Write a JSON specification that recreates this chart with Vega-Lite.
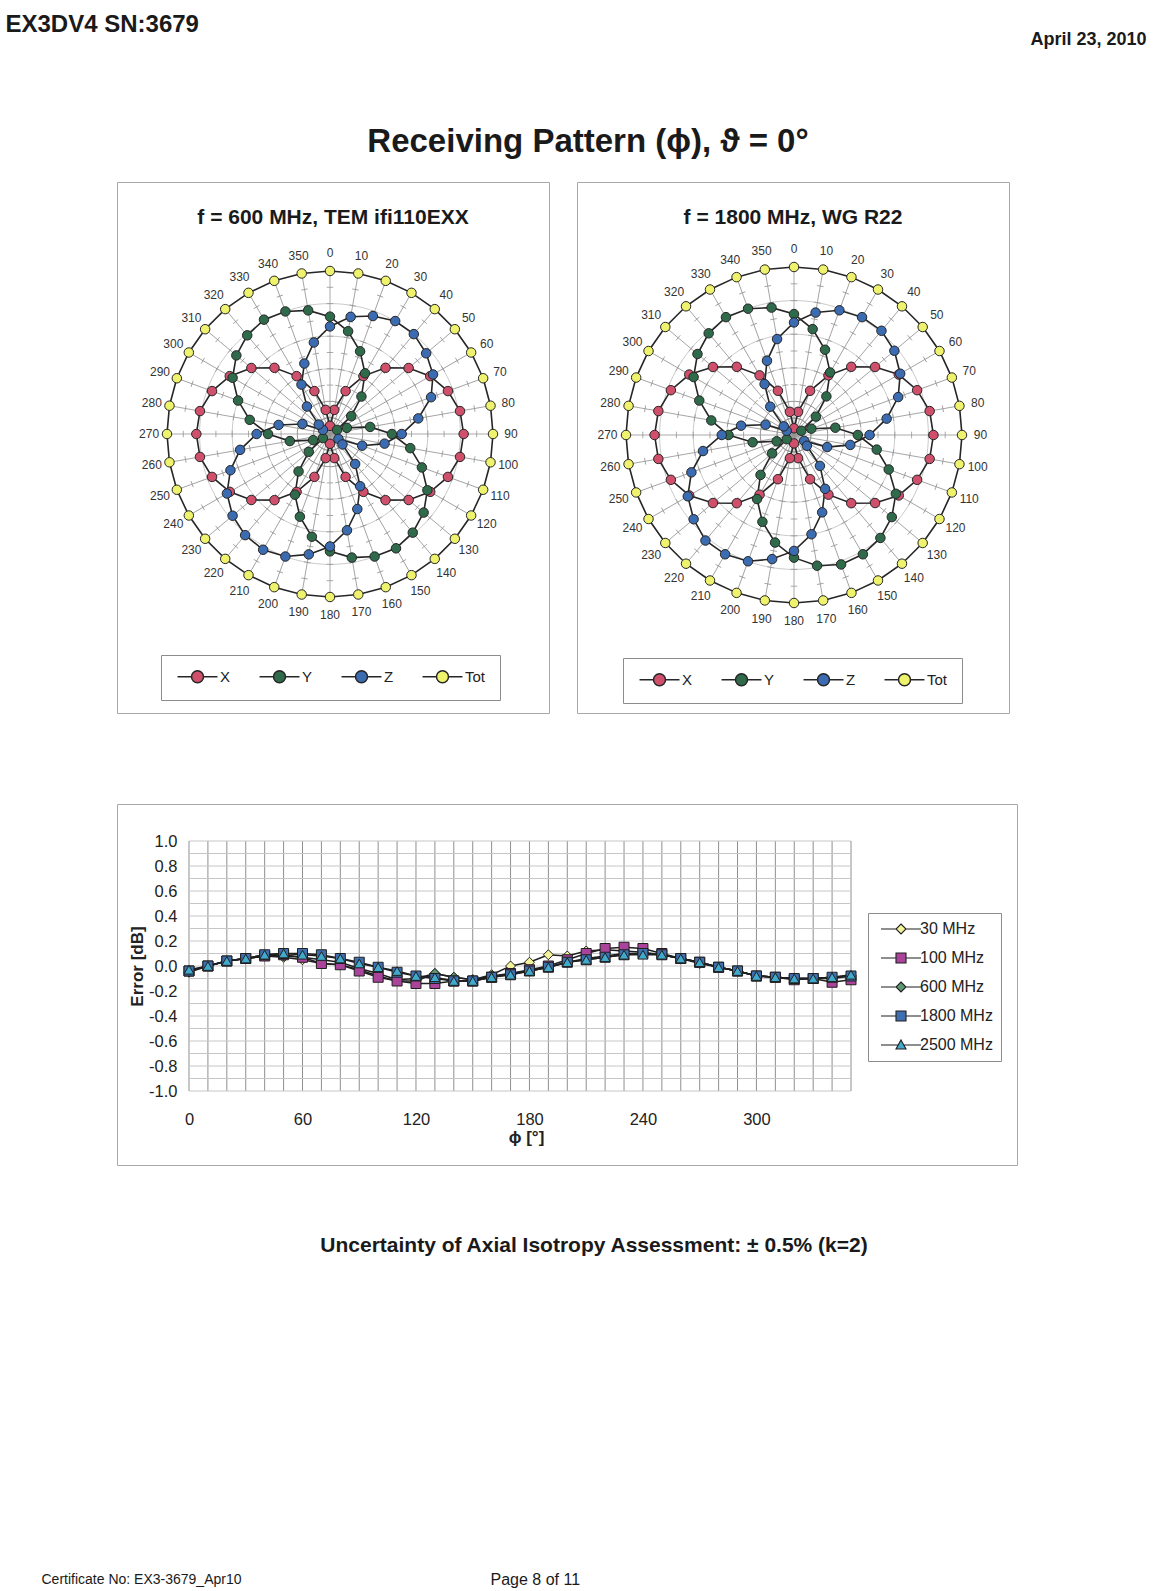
{
  "$schema": "https://vega.github.io/schema/vega-lite/v6.json",
  "background": "white",
  "padding": {"left": 5, "top": 12, "right": 10, "bottom": 5},
  "config": {
    "font": "Liberation Sans",
    "locale": {"number": {"decimal": ".", "thousands": ",", "grouping": [3], "currency": ["$", ""], "minus": "-"}},
    "view": {"stroke": "#a8a8a8", "strokeWidth": 1},
    "title": {"font": "Liberation Sans", "color": "#1a1a1a", "fontWeight": "bold"},
    "axis": {"labelFont": "Liberation Sans", "titleFont": "Liberation Sans", "labelColor": "#222222", "titleColor": "#222222", "labelOverlap": false},
    "legend": {"labelFont": "Liberation Sans", "labelColor": "#222222"}
  },
  "datasets": {
    "pattern600": [
      {"phi":0,"comp":"X","r":0.05},{"phi":10,"comp":"X","r":0.15},{"phi":20,"comp":"X","r":0.28},{"phi":30,"comp":"X","r":0.41},{"phi":40,"comp":"X","r":0.53},{"phi":50,"comp":"X","r":0.63},{"phi":60,"comp":"X","r":0.71},{"phi":70,"comp":"X","r":0.77},{"phi":80,"comp":"X","r":0.81},{"phi":90,"comp":"X","r":0.82},{"phi":100,"comp":"X","r":0.81},{"phi":110,"comp":"X","r":0.77},{"phi":120,"comp":"X","r":0.71},{"phi":130,"comp":"X","r":0.63},{"phi":140,"comp":"X","r":0.53},{"phi":150,"comp":"X","r":0.41},{"phi":160,"comp":"X","r":0.28},{"phi":170,"comp":"X","r":0.15},{"phi":180,"comp":"X","r":0.06},{"phi":190,"comp":"X","r":0.15},{"phi":200,"comp":"X","r":0.28},{"phi":210,"comp":"X","r":0.41},{"phi":220,"comp":"X","r":0.53},{"phi":230,"comp":"X","r":0.63},{"phi":240,"comp":"X","r":0.71},{"phi":250,"comp":"X","r":0.77},{"phi":260,"comp":"X","r":0.81},{"phi":270,"comp":"X","r":0.82},{"phi":280,"comp":"X","r":0.81},{"phi":290,"comp":"X","r":0.77},{"phi":300,"comp":"X","r":0.71},{"phi":310,"comp":"X","r":0.63},{"phi":320,"comp":"X","r":0.53},{"phi":330,"comp":"X","r":0.41},{"phi":340,"comp":"X","r":0.28},{"phi":350,"comp":"X","r":0.15},
      {"phi":0,"comp":"Y","r":0.72},{"phi":10,"comp":"Y","r":0.64},{"phi":20,"comp":"Y","r":0.54},{"phi":30,"comp":"Y","r":0.43},{"phi":40,"comp":"Y","r":0.30},{"phi":50,"comp":"Y","r":0.17},{"phi":60,"comp":"Y","r":0.05},{"phi":70,"comp":"Y","r":0.11},{"phi":80,"comp":"Y","r":0.25},{"phi":90,"comp":"Y","r":0.38},{"phi":100,"comp":"Y","r":0.50},{"phi":110,"comp":"Y","r":0.60},{"phi":120,"comp":"Y","r":0.69},{"phi":130,"comp":"Y","r":0.75},{"phi":140,"comp":"Y","r":0.79},{"phi":150,"comp":"Y","r":0.81},{"phi":160,"comp":"Y","r":0.80},{"phi":170,"comp":"Y","r":0.77},{"phi":180,"comp":"Y","r":0.72},{"phi":190,"comp":"Y","r":0.64},{"phi":200,"comp":"Y","r":0.54},{"phi":210,"comp":"Y","r":0.43},{"phi":220,"comp":"Y","r":0.30},{"phi":230,"comp":"Y","r":0.17},{"phi":240,"comp":"Y","r":0.05},{"phi":250,"comp":"Y","r":0.11},{"phi":260,"comp":"Y","r":0.25},{"phi":270,"comp":"Y","r":0.38},{"phi":280,"comp":"Y","r":0.50},{"phi":290,"comp":"Y","r":0.60},{"phi":300,"comp":"Y","r":0.69},{"phi":310,"comp":"Y","r":0.75},{"phi":320,"comp":"Y","r":0.79},{"phi":330,"comp":"Y","r":0.81},{"phi":340,"comp":"Y","r":0.80},{"phi":350,"comp":"Y","r":0.77},
      {"phi":0,"comp":"Z","r":0.66},{"phi":10,"comp":"Z","r":0.73},{"phi":20,"comp":"Z","r":0.77},{"phi":30,"comp":"Z","r":0.80},{"phi":40,"comp":"Z","r":0.80},{"phi":50,"comp":"Z","r":0.77},{"phi":60,"comp":"Z","r":0.73},{"phi":70,"comp":"Z","r":0.66},{"phi":80,"comp":"Z","r":0.55},{"phi":90,"comp":"Z","r":0.44},{"phi":100,"comp":"Z","r":0.34},{"phi":110,"comp":"Z","r":0.21},{"phi":120,"comp":"Z","r":0.06},{"phi":130,"comp":"Z","r":0.10},{"phi":140,"comp":"Z","r":0.24},{"phi":150,"comp":"Z","r":0.37},{"phi":160,"comp":"Z","r":0.49},{"phi":170,"comp":"Z","r":0.60},{"phi":180,"comp":"Z","r":0.69},{"phi":190,"comp":"Z","r":0.75},{"phi":200,"comp":"Z","r":0.80},{"phi":210,"comp":"Z","r":0.82},{"phi":220,"comp":"Z","r":0.81},{"phi":230,"comp":"Z","r":0.78},{"phi":240,"comp":"Z","r":0.73},{"phi":250,"comp":"Z","r":0.65},{"phi":260,"comp":"Z","r":0.56},{"phi":270,"comp":"Z","r":0.45},{"phi":280,"comp":"Z","r":0.32},{"phi":290,"comp":"Z","r":0.18},{"phi":300,"comp":"Z","r":0.05},{"phi":310,"comp":"Z","r":0.09},{"phi":320,"comp":"Z","r":0.22},{"phi":330,"comp":"Z","r":0.35},{"phi":340,"comp":"Z","r":0.46},{"phi":350,"comp":"Z","r":0.57},
      {"phi":0,"comp":"Tot","r":1.0},{"phi":10,"comp":"Tot","r":1.0},{"phi":20,"comp":"Tot","r":1.0},{"phi":30,"comp":"Tot","r":1.0},{"phi":40,"comp":"Tot","r":1.0},{"phi":50,"comp":"Tot","r":1.0},{"phi":60,"comp":"Tot","r":1.0},{"phi":70,"comp":"Tot","r":1.0},{"phi":80,"comp":"Tot","r":1.0},{"phi":90,"comp":"Tot","r":1.0},{"phi":100,"comp":"Tot","r":1.0},{"phi":110,"comp":"Tot","r":1.0},{"phi":120,"comp":"Tot","r":1.0},{"phi":130,"comp":"Tot","r":1.0},{"phi":140,"comp":"Tot","r":1.0},{"phi":150,"comp":"Tot","r":1.0},{"phi":160,"comp":"Tot","r":1.0},{"phi":170,"comp":"Tot","r":1.0},{"phi":180,"comp":"Tot","r":1.0},{"phi":190,"comp":"Tot","r":1.0},{"phi":200,"comp":"Tot","r":1.0},{"phi":210,"comp":"Tot","r":1.0},{"phi":220,"comp":"Tot","r":1.0},{"phi":230,"comp":"Tot","r":1.0},{"phi":240,"comp":"Tot","r":1.0},{"phi":250,"comp":"Tot","r":1.0},{"phi":260,"comp":"Tot","r":1.0},{"phi":270,"comp":"Tot","r":1.0},{"phi":280,"comp":"Tot","r":1.0},{"phi":290,"comp":"Tot","r":1.0},{"phi":300,"comp":"Tot","r":1.0},{"phi":310,"comp":"Tot","r":1.0},{"phi":320,"comp":"Tot","r":1.0},{"phi":330,"comp":"Tot","r":1.0},{"phi":340,"comp":"Tot","r":1.0},{"phi":350,"comp":"Tot","r":1.0}
    ],
    "pattern1800": [
      {"phi":0,"comp":"X","r":0.04},{"phi":10,"comp":"X","r":0.14},{"phi":20,"comp":"X","r":0.28},{"phi":30,"comp":"X","r":0.41},{"phi":40,"comp":"X","r":0.53},{"phi":50,"comp":"X","r":0.63},{"phi":60,"comp":"X","r":0.72},{"phi":70,"comp":"X","r":0.78},{"phi":80,"comp":"X","r":0.82},{"phi":90,"comp":"X","r":0.83},{"phi":100,"comp":"X","r":0.82},{"phi":110,"comp":"X","r":0.78},{"phi":120,"comp":"X","r":0.72},{"phi":130,"comp":"X","r":0.63},{"phi":140,"comp":"X","r":0.53},{"phi":150,"comp":"X","r":0.41},{"phi":160,"comp":"X","r":0.28},{"phi":170,"comp":"X","r":0.14},{"phi":180,"comp":"X","r":0.05},{"phi":190,"comp":"X","r":0.14},{"phi":200,"comp":"X","r":0.28},{"phi":210,"comp":"X","r":0.41},{"phi":220,"comp":"X","r":0.53},{"phi":230,"comp":"X","r":0.63},{"phi":240,"comp":"X","r":0.72},{"phi":250,"comp":"X","r":0.78},{"phi":260,"comp":"X","r":0.82},{"phi":270,"comp":"X","r":0.83},{"phi":280,"comp":"X","r":0.82},{"phi":290,"comp":"X","r":0.78},{"phi":300,"comp":"X","r":0.72},{"phi":310,"comp":"X","r":0.63},{"phi":320,"comp":"X","r":0.53},{"phi":330,"comp":"X","r":0.41},{"phi":340,"comp":"X","r":0.28},{"phi":350,"comp":"X","r":0.14},
      {"phi":0,"comp":"Y","r":0.72},{"phi":10,"comp":"Y","r":0.64},{"phi":20,"comp":"Y","r":0.54},{"phi":30,"comp":"Y","r":0.43},{"phi":40,"comp":"Y","r":0.30},{"phi":50,"comp":"Y","r":0.17},{"phi":60,"comp":"Y","r":0.05},{"phi":70,"comp":"Y","r":0.11},{"phi":80,"comp":"Y","r":0.25},{"phi":90,"comp":"Y","r":0.38},{"phi":100,"comp":"Y","r":0.50},{"phi":110,"comp":"Y","r":0.60},{"phi":120,"comp":"Y","r":0.70},{"phi":130,"comp":"Y","r":0.76},{"phi":140,"comp":"Y","r":0.80},{"phi":150,"comp":"Y","r":0.82},{"phi":160,"comp":"Y","r":0.82},{"phi":170,"comp":"Y","r":0.79},{"phi":180,"comp":"Y","r":0.73},{"phi":190,"comp":"Y","r":0.65},{"phi":200,"comp":"Y","r":0.55},{"phi":210,"comp":"Y","r":0.44},{"phi":220,"comp":"Y","r":0.31},{"phi":230,"comp":"Y","r":0.17},{"phi":240,"comp":"Y","r":0.05},{"phi":250,"comp":"Y","r":0.11},{"phi":260,"comp":"Y","r":0.25},{"phi":270,"comp":"Y","r":0.39},{"phi":280,"comp":"Y","r":0.50},{"phi":290,"comp":"Y","r":0.60},{"phi":300,"comp":"Y","r":0.69},{"phi":310,"comp":"Y","r":0.75},{"phi":320,"comp":"Y","r":0.79},{"phi":330,"comp":"Y","r":0.81},{"phi":340,"comp":"Y","r":0.80},{"phi":350,"comp":"Y","r":0.77},
      {"phi":0,"comp":"Z","r":0.67},{"phi":10,"comp":"Z","r":0.74},{"phi":20,"comp":"Z","r":0.79},{"phi":30,"comp":"Z","r":0.81},{"phi":40,"comp":"Z","r":0.81},{"phi":50,"comp":"Z","r":0.78},{"phi":60,"comp":"Z","r":0.73},{"phi":70,"comp":"Z","r":0.66},{"phi":80,"comp":"Z","r":0.56},{"phi":90,"comp":"Z","r":0.45},{"phi":100,"comp":"Z","r":0.34},{"phi":110,"comp":"Z","r":0.21},{"phi":120,"comp":"Z","r":0.07},{"phi":130,"comp":"Z","r":0.10},{"phi":140,"comp":"Z","r":0.24},{"phi":150,"comp":"Z","r":0.37},{"phi":160,"comp":"Z","r":0.49},{"phi":170,"comp":"Z","r":0.60},{"phi":180,"comp":"Z","r":0.69},{"phi":190,"comp":"Z","r":0.75},{"phi":200,"comp":"Z","r":0.80},{"phi":210,"comp":"Z","r":0.82},{"phi":220,"comp":"Z","r":0.82},{"phi":230,"comp":"Z","r":0.78},{"phi":240,"comp":"Z","r":0.73},{"phi":250,"comp":"Z","r":0.65},{"phi":260,"comp":"Z","r":0.55},{"phi":270,"comp":"Z","r":0.43},{"phi":280,"comp":"Z","r":0.32},{"phi":290,"comp":"Z","r":0.18},{"phi":300,"comp":"Z","r":0.05},{"phi":310,"comp":"Z","r":0.08},{"phi":320,"comp":"Z","r":0.22},{"phi":330,"comp":"Z","r":0.35},{"phi":340,"comp":"Z","r":0.47},{"phi":350,"comp":"Z","r":0.58},
      {"phi":0,"comp":"Tot","r":1.0},{"phi":10,"comp":"Tot","r":1.0},{"phi":20,"comp":"Tot","r":1.0},{"phi":30,"comp":"Tot","r":1.0},{"phi":40,"comp":"Tot","r":1.0},{"phi":50,"comp":"Tot","r":1.0},{"phi":60,"comp":"Tot","r":1.0},{"phi":70,"comp":"Tot","r":1.0},{"phi":80,"comp":"Tot","r":1.0},{"phi":90,"comp":"Tot","r":1.0},{"phi":100,"comp":"Tot","r":1.0},{"phi":110,"comp":"Tot","r":1.0},{"phi":120,"comp":"Tot","r":1.0},{"phi":130,"comp":"Tot","r":1.0},{"phi":140,"comp":"Tot","r":1.0},{"phi":150,"comp":"Tot","r":1.0},{"phi":160,"comp":"Tot","r":1.0},{"phi":170,"comp":"Tot","r":1.0},{"phi":180,"comp":"Tot","r":1.0},{"phi":190,"comp":"Tot","r":1.0},{"phi":200,"comp":"Tot","r":1.0},{"phi":210,"comp":"Tot","r":1.0},{"phi":220,"comp":"Tot","r":1.0},{"phi":230,"comp":"Tot","r":1.0},{"phi":240,"comp":"Tot","r":1.0},{"phi":250,"comp":"Tot","r":1.0},{"phi":260,"comp":"Tot","r":1.0},{"phi":270,"comp":"Tot","r":1.0},{"phi":280,"comp":"Tot","r":1.0},{"phi":290,"comp":"Tot","r":1.0},{"phi":300,"comp":"Tot","r":1.0},{"phi":310,"comp":"Tot","r":1.0},{"phi":320,"comp":"Tot","r":1.0},{"phi":330,"comp":"Tot","r":1.0},{"phi":340,"comp":"Tot","r":1.0},{"phi":350,"comp":"Tot","r":1.0}
    ],
    "isotropy": [
      {"phi":0,"series":"30 MHz","error":-0.04},{"phi":10,"series":"30 MHz","error":0.00},{"phi":20,"series":"30 MHz","error":0.04},{"phi":30,"series":"30 MHz","error":0.06},{"phi":40,"series":"30 MHz","error":0.08},{"phi":50,"series":"30 MHz","error":0.07},{"phi":60,"series":"30 MHz","error":0.05},{"phi":70,"series":"30 MHz","error":0.02},{"phi":80,"series":"30 MHz","error":0.01},{"phi":90,"series":"30 MHz","error":-0.03},{"phi":100,"series":"30 MHz","error":-0.08},{"phi":110,"series":"30 MHz","error":-0.12},{"phi":120,"series":"30 MHz","error":-0.12},{"phi":130,"series":"30 MHz","error":-0.06},{"phi":140,"series":"30 MHz","error":-0.09},{"phi":150,"series":"30 MHz","error":-0.11},{"phi":160,"series":"30 MHz","error":-0.07},{"phi":170,"series":"30 MHz","error":0.00},{"phi":180,"series":"30 MHz","error":0.03},{"phi":190,"series":"30 MHz","error":0.09},{"phi":200,"series":"30 MHz","error":0.08},{"phi":210,"series":"30 MHz","error":0.12},{"phi":220,"series":"30 MHz","error":0.13},{"phi":230,"series":"30 MHz","error":0.12},{"phi":240,"series":"30 MHz","error":0.11},{"phi":250,"series":"30 MHz","error":0.09},{"phi":260,"series":"30 MHz","error":0.06},{"phi":270,"series":"30 MHz","error":0.03},{"phi":280,"series":"30 MHz","error":-0.01},{"phi":290,"series":"30 MHz","error":-0.04},{"phi":300,"series":"30 MHz","error":-0.08},{"phi":310,"series":"30 MHz","error":-0.09},{"phi":320,"series":"30 MHz","error":-0.10},{"phi":330,"series":"30 MHz","error":-0.10},{"phi":340,"series":"30 MHz","error":-0.10},{"phi":350,"series":"30 MHz","error":-0.08},
      {"phi":0,"series":"100 MHz","error":-0.04},{"phi":10,"series":"100 MHz","error":0.00},{"phi":20,"series":"100 MHz","error":0.04},{"phi":30,"series":"100 MHz","error":0.06},{"phi":40,"series":"100 MHz","error":0.08},{"phi":50,"series":"100 MHz","error":0.09},{"phi":60,"series":"100 MHz","error":0.07},{"phi":70,"series":"100 MHz","error":0.02},{"phi":80,"series":"100 MHz","error":0.01},{"phi":90,"series":"100 MHz","error":-0.04},{"phi":100,"series":"100 MHz","error":-0.09},{"phi":110,"series":"100 MHz","error":-0.12},{"phi":120,"series":"100 MHz","error":-0.14},{"phi":130,"series":"100 MHz","error":-0.14},{"phi":140,"series":"100 MHz","error":-0.12},{"phi":150,"series":"100 MHz","error":-0.12},{"phi":160,"series":"100 MHz","error":-0.09},{"phi":170,"series":"100 MHz","error":-0.06},{"phi":180,"series":"100 MHz","error":-0.03},{"phi":190,"series":"100 MHz","error":0.00},{"phi":200,"series":"100 MHz","error":0.05},{"phi":210,"series":"100 MHz","error":0.10},{"phi":220,"series":"100 MHz","error":0.14},{"phi":230,"series":"100 MHz","error":0.15},{"phi":240,"series":"100 MHz","error":0.14},{"phi":250,"series":"100 MHz","error":0.10},{"phi":260,"series":"100 MHz","error":0.06},{"phi":270,"series":"100 MHz","error":0.03},{"phi":280,"series":"100 MHz","error":-0.01},{"phi":290,"series":"100 MHz","error":-0.04},{"phi":300,"series":"100 MHz","error":-0.08},{"phi":310,"series":"100 MHz","error":-0.09},{"phi":320,"series":"100 MHz","error":-0.11},{"phi":330,"series":"100 MHz","error":-0.10},{"phi":340,"series":"100 MHz","error":-0.13},{"phi":350,"series":"100 MHz","error":-0.11},
      {"phi":0,"series":"600 MHz","error":-0.05},{"phi":10,"series":"600 MHz","error":0.00},{"phi":20,"series":"600 MHz","error":0.04},{"phi":30,"series":"600 MHz","error":0.06},{"phi":40,"series":"600 MHz","error":0.08},{"phi":50,"series":"600 MHz","error":0.08},{"phi":60,"series":"600 MHz","error":0.07},{"phi":70,"series":"600 MHz","error":0.05},{"phi":80,"series":"600 MHz","error":0.03},{"phi":90,"series":"600 MHz","error":-0.02},{"phi":100,"series":"600 MHz","error":-0.06},{"phi":110,"series":"600 MHz","error":-0.11},{"phi":120,"series":"600 MHz","error":-0.10},{"phi":130,"series":"600 MHz","error":-0.06},{"phi":140,"series":"600 MHz","error":-0.09},{"phi":150,"series":"600 MHz","error":-0.11},{"phi":160,"series":"600 MHz","error":-0.08},{"phi":170,"series":"600 MHz","error":-0.06},{"phi":180,"series":"600 MHz","error":-0.04},{"phi":190,"series":"600 MHz","error":-0.01},{"phi":200,"series":"600 MHz","error":0.03},{"phi":210,"series":"600 MHz","error":0.06},{"phi":220,"series":"600 MHz","error":0.08},{"phi":230,"series":"600 MHz","error":0.10},{"phi":240,"series":"600 MHz","error":0.10},{"phi":250,"series":"600 MHz","error":0.09},{"phi":260,"series":"600 MHz","error":0.06},{"phi":270,"series":"600 MHz","error":0.02},{"phi":280,"series":"600 MHz","error":-0.01},{"phi":290,"series":"600 MHz","error":-0.04},{"phi":300,"series":"600 MHz","error":-0.08},{"phi":310,"series":"600 MHz","error":-0.09},{"phi":320,"series":"600 MHz","error":-0.10},{"phi":330,"series":"600 MHz","error":-0.10},{"phi":340,"series":"600 MHz","error":-0.09},{"phi":350,"series":"600 MHz","error":-0.08},
      {"phi":0,"series":"1800 MHz","error":-0.04},{"phi":10,"series":"1800 MHz","error":0.00},{"phi":20,"series":"1800 MHz","error":0.04},{"phi":30,"series":"1800 MHz","error":0.06},{"phi":40,"series":"1800 MHz","error":0.09},{"phi":50,"series":"1800 MHz","error":0.10},{"phi":60,"series":"1800 MHz","error":0.10},{"phi":70,"series":"1800 MHz","error":0.09},{"phi":80,"series":"1800 MHz","error":0.06},{"phi":90,"series":"1800 MHz","error":0.03},{"phi":100,"series":"1800 MHz","error":-0.01},{"phi":110,"series":"1800 MHz","error":-0.05},{"phi":120,"series":"1800 MHz","error":-0.08},{"phi":130,"series":"1800 MHz","error":-0.10},{"phi":140,"series":"1800 MHz","error":-0.12},{"phi":150,"series":"1800 MHz","error":-0.12},{"phi":160,"series":"1800 MHz","error":-0.09},{"phi":170,"series":"1800 MHz","error":-0.07},{"phi":180,"series":"1800 MHz","error":-0.04},{"phi":190,"series":"1800 MHz","error":-0.01},{"phi":200,"series":"1800 MHz","error":0.03},{"phi":210,"series":"1800 MHz","error":0.05},{"phi":220,"series":"1800 MHz","error":0.07},{"phi":230,"series":"1800 MHz","error":0.09},{"phi":240,"series":"1800 MHz","error":0.10},{"phi":250,"series":"1800 MHz","error":0.09},{"phi":260,"series":"1800 MHz","error":0.06},{"phi":270,"series":"1800 MHz","error":0.03},{"phi":280,"series":"1800 MHz","error":-0.01},{"phi":290,"series":"1800 MHz","error":-0.04},{"phi":300,"series":"1800 MHz","error":-0.08},{"phi":310,"series":"1800 MHz","error":-0.09},{"phi":320,"series":"1800 MHz","error":-0.10},{"phi":330,"series":"1800 MHz","error":-0.10},{"phi":340,"series":"1800 MHz","error":-0.09},{"phi":350,"series":"1800 MHz","error":-0.08},
      {"phi":0,"series":"2500 MHz","error":-0.03},{"phi":10,"series":"2500 MHz","error":0.00},{"phi":20,"series":"2500 MHz","error":0.04},{"phi":30,"series":"2500 MHz","error":0.06},{"phi":40,"series":"2500 MHz","error":0.09},{"phi":50,"series":"2500 MHz","error":0.10},{"phi":60,"series":"2500 MHz","error":0.09},{"phi":70,"series":"2500 MHz","error":0.08},{"phi":80,"series":"2500 MHz","error":0.06},{"phi":90,"series":"2500 MHz","error":0.02},{"phi":100,"series":"2500 MHz","error":-0.01},{"phi":110,"series":"2500 MHz","error":-0.04},{"phi":120,"series":"2500 MHz","error":-0.08},{"phi":130,"series":"2500 MHz","error":-0.09},{"phi":140,"series":"2500 MHz","error":-0.12},{"phi":150,"series":"2500 MHz","error":-0.12},{"phi":160,"series":"2500 MHz","error":-0.09},{"phi":170,"series":"2500 MHz","error":-0.07},{"phi":180,"series":"2500 MHz","error":-0.04},{"phi":190,"series":"2500 MHz","error":-0.01},{"phi":200,"series":"2500 MHz","error":0.03},{"phi":210,"series":"2500 MHz","error":0.05},{"phi":220,"series":"2500 MHz","error":0.07},{"phi":230,"series":"2500 MHz","error":0.09},{"phi":240,"series":"2500 MHz","error":0.09},{"phi":250,"series":"2500 MHz","error":0.09},{"phi":260,"series":"2500 MHz","error":0.06},{"phi":270,"series":"2500 MHz","error":0.03},{"phi":280,"series":"2500 MHz","error":-0.01},{"phi":290,"series":"2500 MHz","error":-0.04},{"phi":300,"series":"2500 MHz","error":-0.08},{"phi":310,"series":"2500 MHz","error":-0.09},{"phi":320,"series":"2500 MHz","error":-0.10},{"phi":330,"series":"2500 MHz","error":-0.10},{"phi":340,"series":"2500 MHz","error":-0.09},{"phi":350,"series":"2500 MHz","error":-0.07}
    ],
    "errorGrid": [
      {"level":-1.0},{"level":-0.9},{"level":-0.8},{"level":-0.7},{"level":-0.6},{"level":-0.5},{"level":-0.4},{"level":-0.3},{"level":-0.2},{"level":-0.1},{"level":0.0},{"level":0.1},{"level":0.2},{"level":0.3},{"level":0.4},{"level":0.5},{"level":0.6},{"level":0.7},{"level":0.8},{"level":0.9},{"level":1.0}
    ]
  },
  "title": {"text": "EX3DV4 SN:3679", "anchor": "start", "fontSize": 24, "dx": -36, "offset": -6},
  "resolve": {"scale": {"fill": "independent", "shape": "independent"}, "legend": {"fill": "independent", "shape": "independent"}},
  "vconcat": [
    {
      "title": {"text": "April 23, 2010", "anchor": "end", "fontSize": 18, "dx": 129, "offset": 77},
      "resolve": {"scale": {"fill": "independent", "shape": "independent"}, "legend": {"fill": "independent", "shape": "independent"}},
      "vconcat": [
        {
          "title": {"text": "Certificate No: EX3-3679_Apr10", "orient": "bottom", "anchor": "start", "fontSize": 14, "fontWeight": "normal", "dx": -75, "offset": -15},
          "resolve": {"scale": {"fill": "independent", "shape": "independent"}, "legend": {"fill": "independent", "shape": "independent"}},
          "vconcat": [
            {
              "title": {"text": "Page 8 of 11", "orient": "bottom", "anchor": "start", "fontSize": 16, "fontWeight": "normal", "dx": 374, "offset": 315},
              "spacing": 89,
              "resolve": {"scale": {"fill": "independent", "shape": "independent"}, "legend": {"fill": "independent", "shape": "independent"}},
              "vconcat": [
                {
                  "title": {"text": "Receiving Pattern (ϕ), ϑ = 0°", "anchor": "middle", "fontSize": 33, "dx": 25, "offset": 23},
                  "spacing": 26,
                  "resolve": {"scale": {"fill": "independent", "shape": "independent", "angle": "independent"}, "legend": {"fill": "independent", "shape": "independent"}},
                  "hconcat": [
                    {
                      "width": 432,
                      "height": 531,
                      "title": {"text": "f = 600 MHz, TEM  ifi110EXX", "anchor": "middle", "fontSize": 21, "baseline": "alphabetic", "offset": -63},
                      "data": {"name": "pattern600"},
                      "layer": [
                        {
                          "transform": [{"filter": "datum.comp === 'Tot' && datum.phi === 0"}],
                          "mark": {"type": "point", "shape": "M0.2,0A0.2,0.2 0 1 1 -0.2,0A0.2,0.2 0 1 1 0.2,0M0.4,0A0.4,0.4 0 1 1 -0.4,0A0.4,0.4 0 1 1 0.4,0M0.6,0A0.6,0.6 0 1 1 -0.6,0A0.6,0.6 0 1 1 0.6,0M0.8,0A0.8,0.8 0 1 1 -0.8,0A0.8,0.8 0 1 1 0.8,0", "filled": false, "stroke": "#bdbdbd", "strokeWidth": 0.8, "size": 106276, "opacity": 1},
                          "encoding": {
                            "x": {"datum": 0, "type": "quantitative", "scale": {"domain": [-1.3067, 1.3436], "nice": false, "zero": false}, "axis": null},
                            "y": {"datum": 0, "type": "quantitative", "scale": {"domain": [-1.7117, 1.546], "nice": false, "zero": false}, "axis": null}
                          }
                        },
                        {
                          "transform": [{"filter": "datum.comp === 'Tot'"}],
                          "mark": {"type": "point", "shape": "M0,0V-1M-0.02,-0.1H0.02M-0.02,-0.2H0.02M-0.02,-0.3H0.02M-0.02,-0.4H0.02M-0.02,-0.5H0.02M-0.02,-0.6H0.02M-0.02,-0.7H0.02M-0.02,-0.8H0.02M-0.02,-0.9H0.02", "filled": false, "stroke": "#969696", "strokeWidth": 0.8, "size": 106276, "opacity": 1},
                          "encoding": {
                            "x": {"datum": 0, "type": "quantitative", "scale": {"domain": [-1.3067, 1.3436], "nice": false, "zero": false}, "axis": null},
                            "y": {"datum": 0, "type": "quantitative", "scale": {"domain": [-1.7117, 1.546], "nice": false, "zero": false}, "axis": null},
                            "angle": {"field": "phi", "type": "quantitative", "scale": {"domain": [0, 360], "range": [0, 360]}}
                          }
                        },
                        {
                          "transform": [
                            {"calculate": "datum.r * sin(datum.phi * PI / 180)", "as": "east"},
                            {"calculate": "datum.r * cos(datum.phi * PI / 180)", "as": "north"}
                          ],
                          "mark": {"type": "line", "interpolate": "linear-closed", "stroke": "#262626", "strokeWidth": 1.6},
                          "encoding": {
                            "x": {"field": "east", "type": "quantitative", "scale": {"domain": [-1.3067, 1.3436], "nice": false, "zero": false}, "axis": null},
                            "y": {"field": "north", "type": "quantitative", "scale": {"domain": [-1.7117, 1.546], "nice": false, "zero": false}, "axis": null},
                            "detail": {"field": "comp", "type": "nominal"},
                            "order": {"field": "phi", "type": "quantitative"}
                          }
                        },
                        {
                          "transform": [
                            {"calculate": "datum.r * sin(datum.phi * PI / 180)", "as": "east"},
                            {"calculate": "datum.r * cos(datum.phi * PI / 180)", "as": "north"}
                          ],
                          "mark": {"type": "point", "filled": true, "size": 90, "stroke": "#262626", "strokeWidth": 1, "opacity": 1},
                          "encoding": {
                            "x": {"field": "east", "type": "quantitative", "scale": {"domain": [-1.3067, 1.3436], "nice": false, "zero": false}, "axis": null},
                            "y": {"field": "north", "type": "quantitative", "scale": {"domain": [-1.7117, 1.546], "nice": false, "zero": false}, "axis": null},
                            "fill": {
                              "field": "comp", "type": "nominal",
                              "scale": {"domain": ["X", "Y", "Z", "Tot"], "range": ["#d0506c", "#2f6b4a", "#3b6bb0", "#eff26d"]},
                              "legend": {
                                "orient": "none", "legendX": 44, "legendY": 473, "direction": "horizontal", "title": null,
                                "padding": 14, "strokeColor": "#8c8c8c", "fillColor": "white",
                                "labelFontSize": 15, "symbolSize": 144, "columnPadding": 25, "symbolOffset": 15, "labelOffset": 15,
                                "symbolType": "M-3.33,0H-1M1,0H3.33M1,0A1,1 0 1 1 -1,0A1,1 0 1 1 1,0Z",
                                "encode": {"symbols": {"update": {"shape": {"value": "M-3.33,0H-1M1,0H3.33M1,0A1,1 0 1 1 -1,0A1,1 0 1 1 1,0Z"}, "stroke": {"value": "#262626"}, "strokeWidth": {"value": 1.2}, "opacity": {"value": 1}}}}
                              }
                            }
                          }
                        },
                        {
                          "transform": [
                            {"filter": "datum.comp === 'Tot'"},
                            {"calculate": "1.11 * sin(datum.phi * PI / 180)", "as": "east"},
                            {"calculate": "1.11 * cos(datum.phi * PI / 180)", "as": "north"}
                          ],
                          "mark": {"type": "text", "fontSize": 12, "fill": "#333333", "align": "center", "baseline": "middle"},
                          "encoding": {
                            "x": {"field": "east", "type": "quantitative", "scale": {"domain": [-1.3067, 1.3436], "nice": false, "zero": false}, "axis": null},
                            "y": {"field": "north", "type": "quantitative", "scale": {"domain": [-1.7117, 1.546], "nice": false, "zero": false}, "axis": null},
                            "text": {"field": "phi", "type": "quantitative"}
                          }
                        }
                      ]
                    },
                    {
                      "width": 432,
                      "height": 531,
                      "title": {"text": "f = 1800 MHz, WG R22", "anchor": "middle", "fontSize": 21, "baseline": "alphabetic", "offset": -63},
                      "data": {"name": "pattern1800"},
                      "layer": [
                        {
                          "transform": [{"filter": "datum.comp === 'Tot' && datum.phi === 0"}],
                          "mark": {"type": "point", "shape": "M0.2,0A0.2,0.2 0 1 1 -0.2,0A0.2,0.2 0 1 1 0.2,0M0.4,0A0.4,0.4 0 1 1 -0.4,0A0.4,0.4 0 1 1 0.4,0M0.6,0A0.6,0.6 0 1 1 -0.6,0A0.6,0.6 0 1 1 0.6,0M0.8,0A0.8,0.8 0 1 1 -0.8,0A0.8,0.8 0 1 1 0.8,0", "filled": false, "stroke": "#bdbdbd", "strokeWidth": 0.8, "size": 112896, "opacity": 1},
                          "encoding": {
                            "x": {"datum": 0, "type": "quantitative", "scale": {"domain": [-1.2917, 1.2798], "nice": false, "zero": false}, "axis": null},
                            "y": {"datum": 0, "type": "quantitative", "scale": {"domain": [-1.6548, 1.506], "nice": false, "zero": false}, "axis": null}
                          }
                        },
                        {
                          "transform": [{"filter": "datum.comp === 'Tot'"}],
                          "mark": {"type": "point", "shape": "M0,0V-1M-0.02,-0.1H0.02M-0.02,-0.2H0.02M-0.02,-0.3H0.02M-0.02,-0.4H0.02M-0.02,-0.5H0.02M-0.02,-0.6H0.02M-0.02,-0.7H0.02M-0.02,-0.8H0.02M-0.02,-0.9H0.02", "filled": false, "stroke": "#969696", "strokeWidth": 0.8, "size": 112896, "opacity": 1},
                          "encoding": {
                            "x": {"datum": 0, "type": "quantitative", "scale": {"domain": [-1.2917, 1.2798], "nice": false, "zero": false}, "axis": null},
                            "y": {"datum": 0, "type": "quantitative", "scale": {"domain": [-1.6548, 1.506], "nice": false, "zero": false}, "axis": null},
                            "angle": {"field": "phi", "type": "quantitative", "scale": {"domain": [0, 360], "range": [0, 360]}}
                          }
                        },
                        {
                          "transform": [
                            {"calculate": "datum.r * sin(datum.phi * PI / 180)", "as": "east"},
                            {"calculate": "datum.r * cos(datum.phi * PI / 180)", "as": "north"}
                          ],
                          "mark": {"type": "line", "interpolate": "linear-closed", "stroke": "#262626", "strokeWidth": 1.6},
                          "encoding": {
                            "x": {"field": "east", "type": "quantitative", "scale": {"domain": [-1.2917, 1.2798], "nice": false, "zero": false}, "axis": null},
                            "y": {"field": "north", "type": "quantitative", "scale": {"domain": [-1.6548, 1.506], "nice": false, "zero": false}, "axis": null},
                            "detail": {"field": "comp", "type": "nominal"},
                            "order": {"field": "phi", "type": "quantitative"}
                          }
                        },
                        {
                          "transform": [
                            {"calculate": "datum.r * sin(datum.phi * PI / 180)", "as": "east"},
                            {"calculate": "datum.r * cos(datum.phi * PI / 180)", "as": "north"}
                          ],
                          "mark": {"type": "point", "filled": true, "size": 90, "stroke": "#262626", "strokeWidth": 1, "opacity": 1},
                          "encoding": {
                            "x": {"field": "east", "type": "quantitative", "scale": {"domain": [-1.2917, 1.2798], "nice": false, "zero": false}, "axis": null},
                            "y": {"field": "north", "type": "quantitative", "scale": {"domain": [-1.6548, 1.506], "nice": false, "zero": false}, "axis": null},
                            "fill": {
                              "field": "comp", "type": "nominal",
                              "scale": {"domain": ["X", "Y", "Z", "Tot"], "range": ["#d0506c", "#2f6b4a", "#3b6bb0", "#eff26d"]},
                              "legend": {
                                "orient": "none", "legendX": 46, "legendY": 476, "direction": "horizontal", "title": null,
                                "padding": 14, "strokeColor": "#8c8c8c", "fillColor": "white",
                                "labelFontSize": 15, "symbolSize": 144, "columnPadding": 25, "symbolOffset": 15, "labelOffset": 15,
                                "symbolType": "M-3.33,0H-1M1,0H3.33M1,0A1,1 0 1 1 -1,0A1,1 0 1 1 1,0Z",
                                "encode": {"symbols": {"update": {"shape": {"value": "M-3.33,0H-1M1,0H3.33M1,0A1,1 0 1 1 -1,0A1,1 0 1 1 1,0Z"}, "stroke": {"value": "#262626"}, "strokeWidth": {"value": 1.2}, "opacity": {"value": 1}}}}
                              }
                            }
                          }
                        },
                        {
                          "transform": [
                            {"filter": "datum.comp === 'Tot'"},
                            {"calculate": "1.11 * sin(datum.phi * PI / 180)", "as": "east"},
                            {"calculate": "1.11 * cos(datum.phi * PI / 180)", "as": "north"}
                          ],
                          "mark": {"type": "text", "fontSize": 12, "fill": "#333333", "align": "center", "baseline": "middle"},
                          "encoding": {
                            "x": {"field": "east", "type": "quantitative", "scale": {"domain": [-1.2917, 1.2798], "nice": false, "zero": false}, "axis": null},
                            "y": {"field": "north", "type": "quantitative", "scale": {"domain": [-1.6548, 1.506], "nice": false, "zero": false}, "axis": null},
                            "text": {"field": "phi", "type": "quantitative"}
                          }
                        }
                      ]
                    }
                  ]
                },
                {
                  "width": 900,
                  "height": 361,
                  "title": {"text": "Uncertainty of Axial Isotropy Assessment: ± 0.5% (k=2)", "orient": "bottom", "anchor": "middle", "fontSize": 21, "dx": 27, "offset": 70},
                  "layer": [
                    {
                      "data": {"name": "isotropy"},
                      "transform": [{"filter": "datum.series === '30 MHz'"}],
                      "mark": {"type": "rule", "stroke": "#8f8f8f", "strokeWidth": 1},
                      "encoding": {
                        "x": {
                          "field": "phi", "type": "quantitative",
                          "scale": {"domain": [-38.07, 437.76], "nice": false, "zero": false},
                          "axis": {"values": [0, 60, 120, 180, 240, 300], "tickCount": 40, "format": "d", "offset": -74, "domain": false, "ticks": false, "grid": false, "labelOverlap": false, "labelFontSize": 16.5, "labelPadding": 20, "title": "ϕ [°]", "titleFontSize": 17, "titleFontWeight": "bold", "titleX": 409, "titleY": 38, "titleBaseline": "top"}
                        },
                        "y": {"datum": -1, "type": "quantitative"},
                        "y2": {"datum": 1}
                      }
                    },
                    {
                      "data": {"name": "errorGrid"},
                      "mark": {"type": "rule", "stroke": "#c6c6c6", "strokeWidth": 1},
                      "encoding": {
                        "y": {
                          "field": "level", "type": "quantitative",
                          "scale": {"domain": [-1.592, 1.296], "nice": false, "zero": false},
                          "axis": {"values": [-1, -0.8, -0.6, -0.4, -0.2, 0, 0.2, 0.4, 0.6, 0.8, 1], "tickCount": 40, "format": ".1f", "offset": -72, "domain": false, "ticks": false, "grid": false, "labelOverlap": false, "labelFontSize": 16.5, "labelPadding": 12, "title": "Error [dB]", "titleFontSize": 17, "titleFontWeight": "bold", "titleX": -52, "titleY": 162, "titleBaseline": "middle"}
                        },
                        "x": {"datum": 0, "type": "quantitative"},
                        "x2": {"datum": 350}
                      }
                    },
                    {
                      "data": {"name": "isotropy"},
                      "mark": {"type": "line", "stroke": "#1f1f1f", "strokeWidth": 1.5},
                      "encoding": {
                        "x": {"field": "phi", "type": "quantitative"},
                        "y": {"field": "error", "type": "quantitative"},
                        "detail": {"field": "series", "type": "nominal"}
                      }
                    },
                    {
                      "data": {"name": "isotropy"},
                      "transform": [{"filter": "datum.series === '30 MHz' || datum.series === '600 MHz'"}],
                      "mark": {"type": "point", "shape": "diamond", "filled": true, "size": 100, "stroke": "#1f1f1f", "strokeWidth": 1, "opacity": 1},
                      "encoding": {
                        "x": {"field": "phi", "type": "quantitative"},
                        "y": {"field": "error", "type": "quantitative"},
                        "fill": {"field": "series", "type": "nominal", "scale": {"domain": ["30 MHz", "100 MHz", "600 MHz", "1800 MHz", "2500 MHz"], "range": ["#f3f39c", "#a9449a", "#5e9872", "#3e6fae", "#41aacb"]}}
                      }
                    },
                    {
                      "data": {"name": "isotropy"},
                      "transform": [{"filter": "datum.series === '100 MHz' || datum.series === '1800 MHz'"}],
                      "mark": {"type": "point", "shape": "square", "filled": true, "size": 100, "stroke": "#1f1f1f", "strokeWidth": 1, "opacity": 1},
                      "encoding": {
                        "x": {"field": "phi", "type": "quantitative"},
                        "y": {"field": "error", "type": "quantitative"},
                        "fill": {"field": "series", "type": "nominal", "scale": {"domain": ["30 MHz", "100 MHz", "600 MHz", "1800 MHz", "2500 MHz"], "range": ["#f3f39c", "#a9449a", "#5e9872", "#3e6fae", "#41aacb"]}}
                      }
                    },
                    {
                      "data": {"name": "isotropy"},
                      "transform": [{"filter": "datum.series === '2500 MHz'"}],
                      "mark": {"type": "point", "shape": "triangle-up", "filled": true, "size": 100, "stroke": "#1f1f1f", "strokeWidth": 1, "opacity": 1},
                      "encoding": {
                        "x": {"field": "phi", "type": "quantitative"},
                        "y": {"field": "error", "type": "quantitative"},
                        "fill": {"field": "series", "type": "nominal", "scale": {"domain": ["30 MHz", "100 MHz", "600 MHz", "1800 MHz", "2500 MHz"], "range": ["#f3f39c", "#a9449a", "#5e9872", "#3e6fae", "#41aacb"]}}
                      }
                    },
                    {
                      "data": {"name": "isotropy"},
                      "mark": {"type": "point", "filled": true, "size": 100, "opacity": 0},
                      "encoding": {
                        "x": {"field": "phi", "type": "quantitative"},
                        "y": {"field": "error", "type": "quantitative"},
                        "fill": {
                          "field": "series", "type": "nominal",
                          "scale": {"domain": ["30 MHz", "100 MHz", "600 MHz", "1800 MHz", "2500 MHz"], "range": ["#f3f39c", "#a9449a", "#5e9872", "#3e6fae", "#41aacb"]},
                          "legend": {
                            "orient": "none", "legendX": 751, "legendY": 109, "direction": "vertical", "title": null,
                            "padding": 8, "strokeColor": "#8c8c8c", "fillColor": "white",
                            "labelFontSize": 16, "symbolSize": 100, "rowPadding": 13, "symbolOffset": 17, "labelOffset": 11,
                            "encode": {"symbols": {"update": {"stroke": {"value": "#1f1f1f"}, "strokeWidth": {"value": 1.1}, "opacity": {"value": 1}}}}
                          }
                        },
                        "shape": {
                          "field": "series", "type": "nominal",
                          "scale": {"domain": ["30 MHz", "100 MHz", "600 MHz", "1800 MHz", "2500 MHz"], "range": ["M-4,0H-1M1,0H4M0,-1L1,0L0,1L-1,0Z", "M-4,0H-1M1,0H4M-1,-1H1V1H-1Z", "M-4,0H-1M1,0H4M0,-1L1,0L0,1L-1,0Z", "M-4,0H-1M1,0H4M-1,-1H1V1H-1Z", "M-4,0H-0.55M0.55,0H4M0,-1L1,0.8H-1Z"]},
                          "legend": {
                            "orient": "none", "legendX": 751, "legendY": 109, "direction": "vertical", "title": null,
                            "padding": 8, "strokeColor": "#8c8c8c", "fillColor": "white",
                            "labelFontSize": 16, "symbolSize": 100, "rowPadding": 13, "symbolOffset": 17, "labelOffset": 11,
                            "encode": {"symbols": {"update": {"stroke": {"value": "#1f1f1f"}, "strokeWidth": {"value": 1.1}, "opacity": {"value": 1}}}}
                          }
                        }
                      }
                    }
                  ]
                }
              ]
            }
          ]
        }
      ]
    }
  ]
}
